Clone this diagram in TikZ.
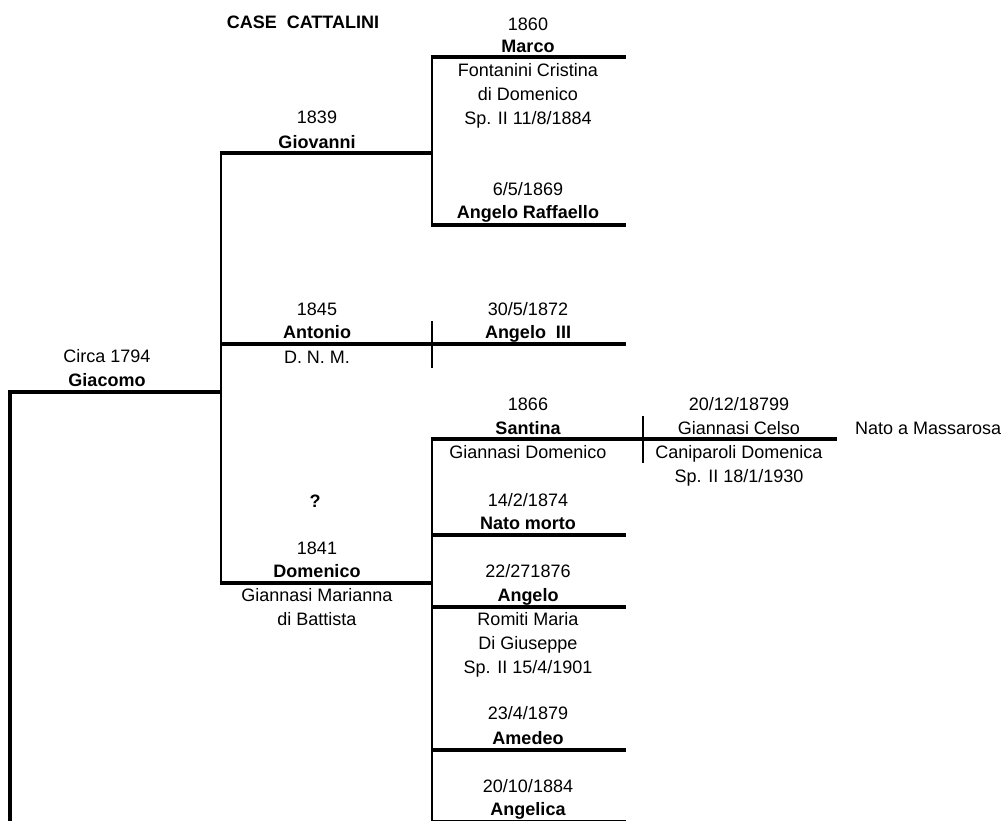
\documentclass[tikz,border=0pt]{standalone}
\usepackage{fontspec}
\setmainfont{Liberation Sans}
\begin{document}
\begin{tikzpicture}[x=1pt,y=-1pt,
  lbl/.style={inner sep=0pt, text height=12.9pt, text depth=0pt, font=\fontsize{18}{22}\selectfont},
  nm/.style={lbl, font=\fontsize{18}{22}\selectfont\bfseries},
  bar/.style={line width=4.5pt},
  stem/.style={line width=2.7pt},
  lstem/.style={line width=3.4pt},
  tick/.style={line width=2pt}]
\useasboundingbox (0,0) rectangle (1007,820);
% title
\node[nm] (title) at (303,22) {CASE\hspace{0.55em}CATTALINI};
% column 1
\node[lbl] (giacD) at (107,356) {Circa 1794};
\node[nm]  (giac)  at (107,380) {Giacomo};
% column 2
\node[lbl] (giovD) at (317,117) {1839};
\node[nm]  (giov)  at (317,142) {Giovanni};
\node[lbl] (antD)  at (317,309) {1845};
\node[nm]  (ant)   at (317,332) {Antonio};
\node[lbl] (antN)  at (317,357) {D. N. M.};
\node[nm]  (q)     at (315,501) {?};
\node[lbl] (domD)  at (317,548) {1841};
\node[nm]  (dom)   at (317,571) {Domenico};
\node[lbl] (domS1) at (317,595) {Giannasi Marianna};
\node[lbl] (domS2) at (317,619) {di Battista};
% column 3
\node[lbl] (marD)  at (528,24) {1860};
\node[nm]  (mar)   at (528,46) {Marco};
\node[lbl] (marS1) at (528,70) {Fontanini Cristina};
\node[lbl] (marS2) at (528,94) {di Domenico};
\node[lbl] (marS3) at (528,118) {Sp. II 11/8/1884};
\node[lbl] (arD)   at (528,189) {6/5/1869};
\node[nm]  (ar)    at (528,212) {Angelo Raffaello};
\node[lbl] (a3D)   at (528,309) {30/5/1872};
\node[nm]  (a3)    at (528,332) {Angelo\ \ III};
\node[lbl] (sanD)  at (528,404) {1866};
\node[nm]  (san)   at (528,428) {Santina};
\node[lbl] (sanS)  at (528,452) {Giannasi Domenico};
\node[lbl] (nmD)   at (528,500) {14/2/1874};
\node[nm]  (nmo)   at (528,523) {Nato morto};
\node[lbl] (angD)  at (528,571) {22/271876};
\node[nm]  (ang)   at (528,595) {Angelo};
\node[lbl] (angS1) at (528,619) {Romiti Maria};
\node[lbl] (angS2) at (528,643) {Di Giuseppe};
\node[lbl] (angS3) at (528,667) {Sp. II 15/4/1901};
\node[lbl] (ameD)  at (528,713) {23/4/1879};
\node[nm]  (ame)   at (528,738) {Amedeo};
\node[lbl] (anlD)  at (528,786) {20/10/1884};
\node[nm]  (anl)   at (528,809) {Angelica};
% column 4
\node[lbl] (celD)  at (739,404) {20/12/18799};
\node[lbl] (cel)   at (739,428) {Giannasi Celso};
\node[lbl] (celS1) at (739,452) {Caniparoli Domenica};
\node[lbl] (celS2) at (739,476) {Sp. II 18/1/1930};
\node[lbl, anchor=west] (mass) at (855,428) {Nato a Massarosa};
% junction coordinates
\coordinate (g0) at (10,392);
\coordinate (g1) at (221,392);
\coordinate (gb) at (10,830);
\coordinate (v1t) at (221,153);
\coordinate (v1b) at (221,583);
\coordinate (ant0) at (221,344);
\coordinate (ant1) at (626,344);
\coordinate (t1a) at (432,321);
\coordinate (t1b) at (432,368);
\coordinate (giov1) at (432,153);
\coordinate (dom1) at (432,583);
\coordinate (v2t) at (432,57);
\coordinate (v2b) at (432,225);
\coordinate (mar1) at (626,57);
\coordinate (ar1) at (626,225);
\coordinate (v3t) at (432,439);
\coordinate (v3b) at (432,830);
\coordinate (san1) at (837,439);
\coordinate (t2a) at (643,416);
\coordinate (t2b) at (643,463);
\coordinate (nm0) at (432,535);
\coordinate (nm1) at (626,535);
\coordinate (ang0) at (432,607);
\coordinate (ang1) at (626,607);
\coordinate (ame0) at (432,750);
\coordinate (ame1) at (626,750);
\coordinate (anl0) at (432,822);
\coordinate (anl1) at (626,822);
% lines
\draw[lstem] ([yshift=-2pt]g0) -- (gb);
\draw[bar] ([xshift=-1.7pt]g0) -- (g1);
\draw[stem] ([yshift=-2.2pt]v1t) -- ([yshift=2.2pt]v1b);
\draw[bar] ([xshift=-1.3pt]v1t) -- (giov1);
\draw[bar] (ant0) -- (ant1);
\draw[bar] ([xshift=-1.3pt]v1b) -- (dom1);
\draw[tick] (t1a) -- (t1b);
\draw[stem] ([yshift=-2.2pt]v2t) -- ([yshift=2.2pt]v2b);
\draw[bar] ([xshift=-1.3pt]v2t) -- (mar1);
\draw[bar] ([xshift=-1.3pt]v2b) -- (ar1);
\draw[stem] ([yshift=-2.2pt]v3t) -- (v3b);
\draw[bar] ([xshift=-1.3pt]v3t) -- (san1);
\draw[tick] (t2a) -- (t2b);
\draw[bar] (nm0) -- (nm1);
\draw[bar] (ang0) -- (ang1);
\draw[bar] (ame0) -- (ame1);
\draw[bar] (anl0) -- (anl1);
\end{tikzpicture}
\end{document}
